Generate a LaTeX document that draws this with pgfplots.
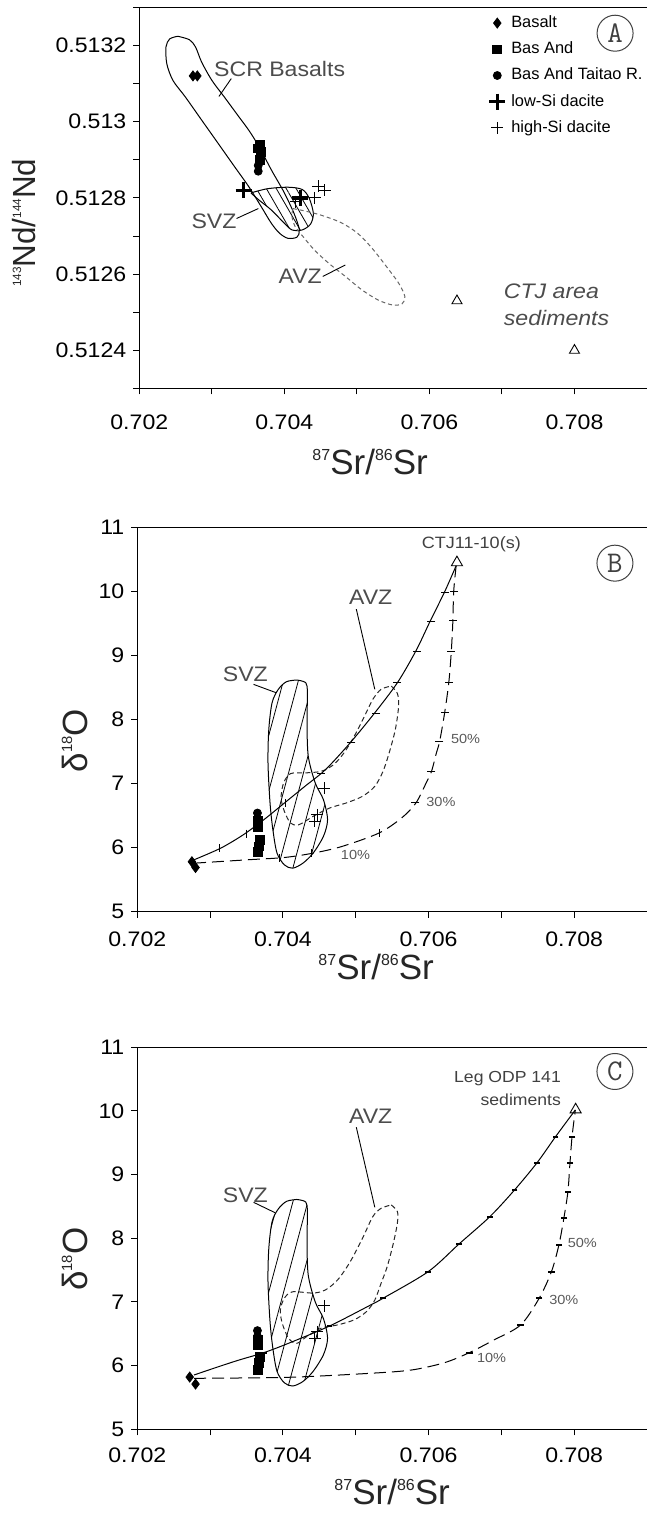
\documentclass[border=0pt]{standalone}
\usepackage{fontspec}
\setmainfont{Liberation Sans}
\newfontfamily\tickfam[FakeStretch=1.1]{Liberation Sans}
\newfontfamily\annfam[FakeStretch=1.1]{Liberation Sans}
\newfontfamily\ylabAfam[FakeStretch=0.98]{Liberation Sans}
\newfontfamily\ylabBfam[FakeStretch=1.0]{Liberation Sans}
\newfontfamily\xlfam[FakeStretch=1.0]{Liberation Sans}
\usepackage{pgfplots}
\pgfplotsset{compat=1.18}
\usetikzlibrary{patterns.meta}
\definecolor{anngray}{gray}{0.30}
\newcommand{\xsup}[1]{\raisebox{6.8pt}{\fontsize{8}{8}\selectfont #1}}
\newcommand{\nsup}[1]{\raisebox{7.2pt}{\fontsize{6}{6}\selectfont #1}}
\newcommand{\osup}[1]{\raisebox{7.4pt}{\fontsize{7.4}{7.4}\selectfont #1}}
\newcommand{\annfont}{\annfam\fontsize{10.5}{10.5}\selectfont}
\newcommand{\pctfont}{\annfam\fontsize{6.6}{6.6}\selectfont}
\newcommand{\legsp}[1]{\hspace{2pt}#1}
\pgfplotsset{
  srstyle/.style={
    scale only axis, clip=false,
    xmin=0.702, xmax=0.709,
    axis x line*=box, axis y line*=left,
    xtick={0.702,0.704,0.706,0.708},
    xticklabels={0.702,0.704,0.706,0.708},
    minor xtick={0.703,0.705,0.707},
    scaled ticks=false,
    tick align=outside,
    major tick length=3pt, minor tick length=3pt,
    xtick pos=left, ytick pos=left,
    tick style={line width=0.5pt, black},
    axis line style={line width=0.6pt},
    ticklabel style={font=\tickfam\fontsize{10.5}{10.5}\selectfont},
    xlabel={\xsup{87}Sr/\xsup{86}Sr},
    xlabel style={font=\xlfam\fontsize{17.5}{17.5}\selectfont, text=black!85},
  },
  tickA/.style={only marks, mark=-, mark size=2pt, line width=0.5pt, forget plot},
  legimg/.style={legend image code/.code={\draw[mark repeat=2, mark phase=2, ##1, only marks] plot coordinates {(0cm,0cm) (0.15cm,0cm) (0.42cm,0cm)};}},
}
\begin{document}
\begin{tikzpicture}
\useasboundingbox (0,0) rectangle (323.5pt,758pt);

% ================= Panel A =================
\begin{axis}[srstyle,
  at={(69.65pt,563.75pt)}, anchor=south west,
  width=253.85pt, height=190.6pt,
  ymin=0.5123, ymax=0.5133,
  ytick={0.5124,0.5126,0.5128,0.513,0.5132},
  yticklabels={0.5124,0.5126,0.5128,0.513,0.5132},
  minor ytick={0.5123,0.5125,0.5127,0.5129,0.5131,0.5133},
  xticklabel style={yshift=-6.5pt},
  xlabel style={at={(axis description cs:0.5,-0.225)}, anchor=base, xshift=-11.5pt},
  ylabel={\nsup{143}Nd/\nsup{144}Nd},
  ylabel style={at={(axis description cs:-0.227,0.435)}, anchor=center,
     font=\ylabAfam\fontsize{16}{16}\selectfont, text=black!85},
  legend style={at={(axis cs:0.70682,0.513285)}, anchor=north west, draw=none, fill=none,
    inner sep=0pt, font=\fontsize{8.2}{8.2}\selectfont, row sep=3.4pt,
    nodes={inner sep=1pt, text height=6pt, text depth=1.7pt}},
  legend cell align=left,
  legimg,
]
% SCR envelope
\addplot[smooth, line width=0.5pt, forget plot] coordinates {
(0.70253,0.513224) (0.70269,0.513215) (0.702775,0.513196) (0.70286,0.513156) (0.703002,0.513108)
(0.703171,0.513065) (0.703341,0.513021) (0.703511,0.512977) (0.703652,0.512934) (0.703822,0.512873)
(0.703992,0.512816) (0.704134,0.512759) (0.704207,0.512716) (0.704173,0.512697) (0.704049,0.512694)
(0.703935,0.512707) (0.703822,0.512733) (0.703681,0.512777) (0.703511,0.512829) (0.703313,0.512882)
(0.703087,0.512943) (0.70286,0.513004) (0.702634,0.513065) (0.702464,0.513108) (0.702379,0.513152)
(0.702368,0.513196) (0.702419,0.513217) (0.70253,0.513224)};
% SVZ hatched
\addplot[smooth, line width=0.5pt, pattern={Lines[angle=-60,distance=4.3pt,line width=0.4pt]}, forget plot] coordinates {
(0.703539,0.512813) (0.703766,0.512824) (0.704049,0.512828) (0.704247,0.512822) (0.704343,0.512799)
(0.7044,0.512759) (0.70436,0.512731) (0.704247,0.512716) (0.704105,0.512716) (0.703992,0.512735)
(0.703822,0.512768) (0.703652,0.512794) (0.703539,0.512813)};
% AVZ dashed
\addplot[smooth, line width=0.5pt, black!60, dash pattern=on 2pt off 1.5pt, forget plot] coordinates {
(0.704117,0.512772) (0.704275,0.512766) (0.704501,0.512755) (0.704784,0.512735) (0.705011,0.512707)
(0.705209,0.512668) (0.705407,0.51262) (0.705577,0.512576) (0.705662,0.512541) (0.705622,0.512522)
(0.705492,0.512519) (0.705294,0.512532) (0.705067,0.512559) (0.704841,0.512594) (0.704615,0.512628)
(0.704416,0.512663) (0.704264,0.512697) (0.704151,0.512724) (0.704105,0.512751) (0.704117,0.512772)};
% CTJ sediments
\addplot[only marks, mark=triangle, mark size=2.9pt, line width=0.45pt, forget plot] coordinates {(0.70638,0.51253) (0.708,0.5124)};
% samples (legend order)
\addplot[only marks, mark=diamond*, mark size=2.5pt, black, legimg] coordinates {(0.70274,0.51312) (0.7028,0.51312)};
\addlegendentry{\legsp{Basalt}}
\addplot[only marks, mark=square*, mark size=2.2pt, black, legimg] coordinates {(0.70366,0.51294) (0.70368,0.51292) (0.70366,0.5129) (0.70364,0.51293)};
\addlegendentry{\legsp{Bas And}}
\addplot[only marks, mark=*, mark size=2pt, black, legimg] coordinates {(0.70364,0.512885) (0.70364,0.51287)};
\addlegendentry{\legsp{Bas And Taitao R.}}
\addplot[only marks, mark=+, mark size=4pt, line width=1.7pt, black, legimg] coordinates {(0.70344,0.51282) (0.70422,0.5128)};
\addlegendentry{\legsp{low-Si dacite}}
\addplot[only marks, mark=+, mark size=3pt, line width=0.5pt, black, legimg] coordinates {(0.70447,0.51283) (0.70456,0.51282) (0.70442,0.5128) (0.70416,0.51279)};
\addlegendentry{\legsp{high-Si dacite}}
% annotations
\node[text=anngray, font=\annfont] at (axis cs:0.703935,0.513139) {SCR Basalts};
\draw[line width=0.45pt] (axis cs:0.703268,0.513113) -- (axis cs:0.703098,0.513066);
\node[text=anngray, font=\annfont] at (axis cs:0.70303,0.512738) {SVZ};
\draw[line width=0.45pt] (axis cs:0.703341,0.512746) -- (axis cs:0.703641,0.512772);
\node[text=anngray, font=\annfont] at (axis cs:0.704218,0.512594) {AVZ};
\draw[line width=0.45pt] (axis cs:0.70453,0.512594) -- (axis cs:0.704841,0.512624);
\node[text=anngray, font=\annfont\itshape, anchor=west] at (axis cs:0.70693,0.512554) {CTJ area};
\node[text=anngray, font=\annfont\itshape, anchor=west] at (axis cs:0.70693,0.512484) {sediments};
\node[circle, draw=black!75, line width=0.5pt, minimum size=18pt, inner sep=0pt, text=black!75, font=\ttfamily\fontsize{15}{15}\selectfont] at (axis cs:0.70856,0.513232) {A};
\end{axis}

% ================= Panel B =================
\begin{axis}[srstyle,
  at={(68.65pt,302.15pt)}, anchor=south west,
  width=254.85pt, height=192.2pt,
  ymin=5, ymax=11,
  ytick={5,6,7,8,9,10,11}, yticklabels={5,6,7,8,9,10,11},
  xticklabel style={yshift=-3.6pt},
  xlabel style={at={(axis description cs:0.5,-0.1756)}, anchor=base, xshift=-8pt},
  ylabel={δ\osup{18}O},
  ylabel style={at={(axis description cs:-0.1232,0.445)}, anchor=center,
     font=\ylabBfam\fontsize{17.5}{17.5}\selectfont, text=black!85},
]
% SVZ
\addplot[smooth, line width=0.5pt, pattern={Lines[angle=75,distance=7.2pt,line width=0.4pt]}, forget plot] coordinates {
(0.70419,8.616) (0.704314,8.574) (0.704336,8.418) (0.704331,7.948) (0.704348,7.427) (0.704444,7.009)
(0.704556,6.749) (0.704613,6.436) (0.704556,6.175) (0.704415,5.914) (0.704274,5.757) (0.704133,5.679)
(0.70402,5.731) (0.703919,5.914) (0.703862,6.279) (0.703823,6.696) (0.703795,7.322) (0.703806,7.844)
(0.703851,8.261) (0.703936,8.47) (0.704049,8.59) (0.70419,8.616)};
% AVZ
\addplot[smooth, line width=0.5pt, black!85, dash pattern=on 2.5pt off 1.6pt, forget plot] coordinates {
(0.705488,8.522) (0.705572,8.407) (0.705589,8.209) (0.705544,7.844) (0.705459,7.479) (0.705375,7.192)
(0.705262,6.957) (0.705093,6.801) (0.704867,6.696) (0.704641,6.618) (0.704415,6.488) (0.704218,6.357)
(0.704105,6.383) (0.70402,6.566) (0.703975,6.775) (0.704009,7.009) (0.704105,7.155) (0.704302,7.166)
(0.704528,7.192) (0.704697,7.296) (0.704839,7.479) (0.70498,7.74) (0.705121,8.053) (0.705234,8.313)
(0.705347,8.47) (0.705488,8.522)};
% mixing curves
\addplot[smooth, line width=0.5pt, forget plot] coordinates {
(0.702779,5.81) (0.703146,5.992) (0.703456,6.201) (0.703738,6.436) (0.70402,6.696) (0.704302,6.957)
(0.704585,7.218) (0.704923,7.635) (0.705262,8.105) (0.705572,8.574) (0.705826,9.07) (0.706024,9.539)
(0.706221,9.993) (0.706379,10.4)};
\addplot[only marks, mark=|, mark size=2pt, line width=0.5pt, forget plot] coordinates {(0.70313,5.99) (0.7035,6.22) (0.70403,6.69)};
\addplot[tickA] coordinates {(0.70452,7.15) (0.70494,7.64) (0.70528,8.1) (0.70557,8.58) (0.70584,9.06) (0.70604,9.53) (0.70622,9.98)};
\addplot[smooth, line width=0.5pt, dash pattern=on 6pt off 3pt, forget plot] coordinates {
(0.702779,5.757) (0.703512,5.81) (0.70402,5.846) (0.704415,5.914) (0.70481,6.018) (0.705318,6.227)
(0.705629,6.462) (0.705826,6.696) (0.705967,7.009) (0.706041,7.192) (0.706108,7.479) (0.706153,7.661)
(0.706221,8.105) (0.706278,8.574) (0.706312,9.054) (0.706334,9.539) (0.706345,9.993) (0.706379,10.4)};
\addplot[only marks, mark=|, mark size=2pt, line width=0.5pt, forget plot] coordinates {(0.70395,5.84) (0.70439,5.91) (0.70532,6.23)};
\addplot[tickA] coordinates {(0.70582,6.70) (0.70604,7.19) (0.70615,7.66) (0.70622,8.105) (0.70628,8.574) (0.70631,9.054) (0.70633,9.539) (0.70635,9.993)};
% samples
\addplot[only marks, mark=triangle, mark size=3.2pt, line width=0.45pt, forget plot] coordinates {(0.70639,10.45)};
\addplot[only marks, mark=diamond*, mark size=2.5pt, forget plot] coordinates {(0.70275,5.78) (0.7028,5.69)};
\addplot[only marks, mark=square*, mark size=2.2pt, forget plot] coordinates {(0.70366,6.42) (0.70366,6.32) (0.70368,6.12) (0.70367,6.02) (0.70366,5.93)};
\addplot[only marks, mark=*, mark size=2pt, forget plot] coordinates {(0.70365,6.54) (0.70365,6.45)};
\addplot[only marks, mark=+, mark size=3pt, line width=0.5pt, forget plot] coordinates {(0.70457,6.93) (0.70447,6.51) (0.70444,6.41)};
% annotations
\node[text=anngray, font=\annfont] at (axis cs:0.703484,8.705) {SVZ};
\draw[line width=0.45pt] (axis cs:0.703597,8.548) -- (axis cs:0.703907,8.418);
\node[text=anngray, font=\annfont] at (axis cs:0.705205,9.904) {AVZ};
\draw[line width=0.45pt] (axis cs:0.705008,9.722) -- (axis cs:0.705262,8.47);
\node[text=black!75, font=\annfam\fontsize{8.2}{8.2}\selectfont] at (axis cs:0.706588,10.74) {CTJ11-10(s)};
\node[text=black!65, font=\pctfont] at (axis cs:0.704997,5.888) {10\%};
\node[text=black!65, font=\pctfont] at (axis cs:0.70617,6.72) {30\%};
\node[text=black!65, font=\pctfont] at (axis cs:0.706509,7.69) {50\%};
\node[circle, draw=black!75, line width=0.5pt, minimum size=18pt, inner sep=0pt, text=black!75, font=\ttfamily\fontsize{15}{15}\selectfont] at (axis cs:0.70856,10.44) {B};
\end{axis}

% ================= Panel C =================
\begin{axis}[srstyle,
  at={(68.65pt,43.35pt)}, anchor=south west,
  width=254.85pt, height=191pt,
  ymin=5, ymax=11,
  ytick={5,6,7,8,9,10,11}, yticklabels={5,6,7,8,9,10,11},
  xticklabel style={yshift=-2.6pt},
  xlabel style={at={(axis description cs:0.5,-0.196)}, anchor=base},
  ylabel={δ\osup{18}O},
  ylabel style={at={(axis description cs:-0.1232,0.445)}, anchor=center,
     font=\ylabBfam\fontsize{17.5}{17.5}\selectfont, text=black!85},
]
% SVZ
\addplot[smooth, line width=0.5pt, pattern={Lines[angle=75,distance=7.2pt,line width=0.4pt]}, forget plot] coordinates {
(0.70419,8.61) (0.704314,8.57) (0.704336,8.41) (0.704331,7.94) (0.704348,7.42) (0.704444,7.0)
(0.704556,6.74) (0.704613,6.43) (0.704556,6.17) (0.704415,5.91) (0.704274,5.75) (0.704133,5.68)
(0.70402,5.73) (0.703919,5.91) (0.703862,6.27) (0.703823,6.69) (0.703795,7.32) (0.703806,7.84)
(0.703851,8.26) (0.703936,8.46) (0.704049,8.58) (0.70419,8.61)};
% AVZ
\addplot[smooth, line width=0.5pt, black!85, dash pattern=on 2.5pt off 1.6pt, forget plot] coordinates {
(0.705488,8.524) (0.705572,8.42) (0.705572,8.24) (0.705516,7.92) (0.705431,7.55) (0.705347,7.29)
(0.705262,7.03) (0.705149,6.85) (0.70498,6.72) (0.704754,6.64) (0.704528,6.59) (0.704331,6.46)
(0.70419,6.35) (0.704077,6.43) (0.703992,6.66) (0.703964,6.87) (0.70402,7.06) (0.704133,7.16)
(0.704415,7.14) (0.704585,7.19) (0.704754,7.35) (0.704923,7.63) (0.705093,8.0) (0.705234,8.34)
(0.705347,8.47) (0.705488,8.524)};
% mixing curves
\addplot[smooth, line width=0.5pt, forget plot] coordinates {
(0.702779,5.853) (0.703117,5.984) (0.7034,6.089) (0.703738,6.204) (0.704077,6.351) (0.704641,6.623)
(0.705205,6.953) (0.705375,7.058) (0.705995,7.476) (0.706419,7.911) (0.706842,8.34) (0.707181,8.759)
(0.707491,9.188) (0.707745,9.597) (0.708016,10.016)};
\addplot[only marks, mark=-, mark size=1.4pt, line width=0.9pt, forget plot] coordinates {
(0.70374,6.204) (0.704641,6.623) (0.705375,7.058) (0.705995,7.476) (0.706419,7.911) (0.706842,8.34) (0.707181,8.759) (0.707491,9.188) (0.707745,9.597)};
\addplot[smooth, line width=0.5pt, dash pattern=on 6pt off 3pt, forget plot] coordinates {
(0.702779,5.801) (0.704077,5.817) (0.705205,5.88) (0.70577,5.932) (0.706221,6.047) (0.70656,6.204)
(0.706898,6.403) (0.707265,6.639) (0.707519,7.058) (0.707688,7.476) (0.70779,7.895) (0.707858,8.314)
(0.707914,8.733) (0.707942,9.178) (0.707971,9.597) (0.708016,10.016)};
\addplot[only marks, mark=-, mark size=1.6pt, line width=1.1pt, forget plot] coordinates {
(0.70656,6.204) (0.707265,6.639) (0.707519,7.058) (0.707688,7.476) (0.70779,7.895) (0.707858,8.314) (0.707914,8.733) (0.707942,9.178) (0.707971,9.597)};
% samples
\addplot[only marks, mark=triangle, mark size=3.2pt, line width=0.45pt, forget plot] coordinates {(0.70802,10.02)};
\addplot[only marks, mark=diamond*, mark size=2.5pt, forget plot] coordinates {(0.70272,5.82) (0.7028,5.71)};
\addplot[only marks, mark=square*, mark size=2.2pt, forget plot] coordinates {(0.70366,6.4) (0.70366,6.33) (0.70368,6.14) (0.70367,6.04) (0.70366,5.93)};
\addplot[only marks, mark=*, mark size=2pt, forget plot] coordinates {(0.70365,6.55) (0.70365,6.46)};
\addplot[only marks, mark=+, mark size=3pt, line width=0.5pt, forget plot] coordinates {(0.70457,6.94) (0.70447,6.53) (0.70444,6.43)};
% annotations
\node[text=anngray, font=\annfont] at (axis cs:0.703484,8.68) {SVZ};
\draw[line width=0.45pt] (axis cs:0.703597,8.565) -- (axis cs:0.703896,8.4);
\node[text=anngray, font=\annfont] at (axis cs:0.705205,9.91) {AVZ};
\draw[line width=0.45pt] (axis cs:0.705008,9.744) -- (axis cs:0.705262,8.487);
\node[text=black!75, font=\annfam\fontsize{8}{8}\selectfont, anchor=east] at (axis cs:0.707914,10.513) {Leg ODP 141};
\node[text=black!75, font=\annfam\fontsize{8}{8}\selectfont, anchor=east] at (axis cs:0.707914,10.17) {sediments};
\node[text=black!65, font=\pctfont] at (axis cs:0.706865,6.115) {10\%};
\node[text=black!65, font=\pctfont] at (axis cs:0.707858,7.03) {30\%};
\node[text=black!65, font=\pctfont] at (axis cs:0.708112,7.92) {50\%};
\node[circle, draw=black!75, line width=0.5pt, minimum size=18pt, inner sep=0pt, text=black!75, font=\ttfamily\fontsize{15}{15}\selectfont] at (axis cs:0.70856,10.62) {C};
\end{axis}
\end{tikzpicture}
\end{document}
